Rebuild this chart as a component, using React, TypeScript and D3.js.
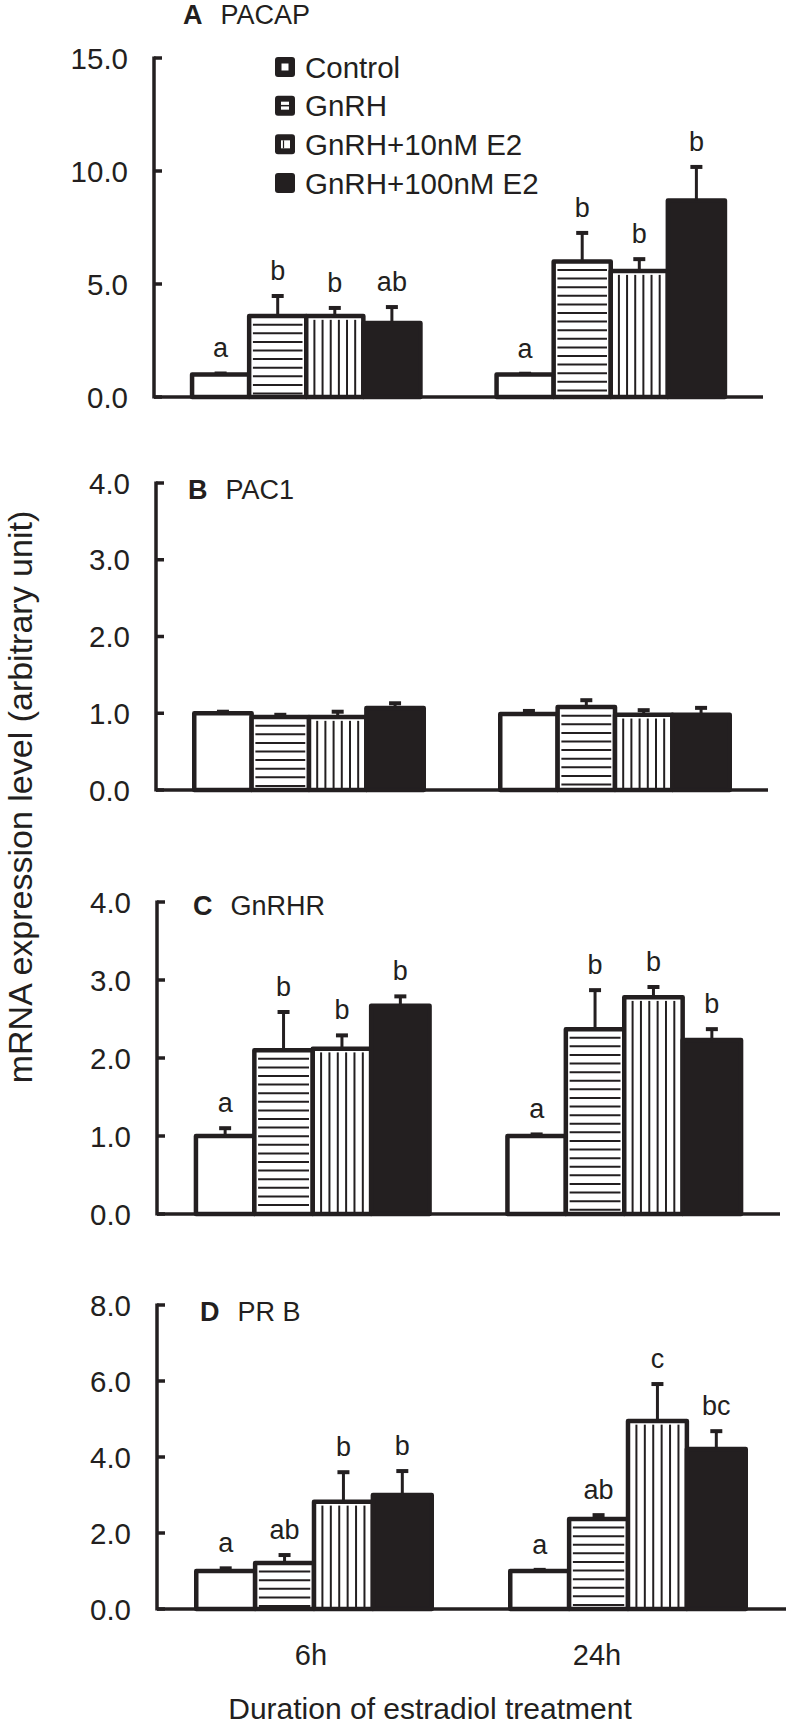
import React from "react";
import * as d3 from "d3";

// ---------- DATA ----------
const groups = ["6h", "24h"];
const series = ["Control", "GnRH", "GnRH+10nM E2", "GnRH+100nM E2"];

// Panel A: PACAP
const pacapMean6h = [1.0, 3.58, 3.58, 3.27];
const pacapErr6h = [0.04, 0.89, 0.36, 0.71];
const pacapLetters6h = ["a", "b", "b", "ab"];
const pacapMean24h = [1.0, 6.0, 5.57, 8.7];
const pacapErr24h = [0.03, 1.26, 0.53, 1.48];
const pacapLetters24h = ["a", "b", "b", "b"];
const pacapTicks = [0, 5, 10, 15];

// Panel B: PAC1
const pac1Mean6h = [1.0, 0.95, 0.95, 1.07];
const pac1Err6h = [0.02, 0.03, 0.07, 0.06];
const pac1Letters6h = ["", "", "", ""];
const pac1Mean24h = [0.99, 1.08, 0.98, 0.98];
const pac1Err24h = [0.04, 0.09, 0.06, 0.09];
const pac1Letters24h = ["", "", "", ""];
const pac1Ticks = [0, 1, 2, 3, 4];

// Panel C: GnRHR
const gnrhrMean6h = [1.0, 2.1, 2.12, 2.67];
const gnrhrErr6h = [0.1, 0.49, 0.17, 0.12];
const gnrhrLetters6h = ["a", "b", "b", "b"];
const gnrhrMean24h = [1.0, 2.37, 2.78, 2.23];
const gnrhrErr24h = [0.02, 0.5, 0.13, 0.14];
const gnrhrLetters24h = ["a", "b", "b", "b"];
const gnrhrTicks = [0, 1, 2, 3, 4];

// Panel D: PR B
const prbMean6h = [1.0, 1.21, 2.82, 3.0];
const prbErr6h = [0.07, 0.21, 0.78, 0.63];
const prbLetters6h = ["a", "ab", "b", "b"];
const prbMean24h = [1.0, 2.37, 4.95, 4.21];
const prbErr24h = [0.03, 0.1, 0.97, 0.47];
const prbLetters24h = ["a", "ab", "c", "bc"];
const prbTicks = [0, 2, 4, 6, 8];

const panelLetters = ["A", "B", "C", "D"];
const panelNames = ["PACAP", "PAC1", "GnRHR", "PR B"];
const xAxisTitle = "Duration of estradiol treatment";
const yAxisTitle = "mRNA expression level (arbitrary unit)";

// ---------- LAYOUT ----------
const W = 786;
const H = 1728;
const FONT = "'Liberation Sans', Arial, Helvetica, sans-serif";
const INK = "#231f20";

type Layout = {
  x0: number; x1: number; lineEnd: number; yBase: number; yTop: number;
  titleX: number; titleY: number;
};
const layouts: Layout[] = [
  { x0: 154, x1: 763, lineEnd: 763, yBase: 397, yTop: 58, titleX: 183, titleY: 24 },
  { x0: 156, x1: 768, lineEnd: 768, yBase: 790, yTop: 483, titleX: 188, titleY: 499 },
  { x0: 157, x1: 780, lineEnd: 780, yBase: 1214, yTop: 902, titleX: 193, titleY: 915 },
  { x0: 157, x1: 785, lineEnd: 786, yBase: 1609, yTop: 1305, titleX: 200, titleY: 1321 },
];

const panels = [
  { means: [pacapMean6h, pacapMean24h], errs: [pacapErr6h, pacapErr24h], letters: [pacapLetters6h, pacapLetters24h], ticks: pacapTicks },
  { means: [pac1Mean6h, pac1Mean24h], errs: [pac1Err6h, pac1Err24h], letters: [pac1Letters6h, pac1Letters24h], ticks: pac1Ticks },
  { means: [gnrhrMean6h, gnrhrMean24h], errs: [gnrhrErr6h, gnrhrErr24h], letters: [gnrhrLetters6h, gnrhrLetters24h], ticks: gnrhrTicks },
  { means: [prbMean6h, prbMean24h], errs: [prbErr6h, prbErr24h], letters: [prbLetters6h, prbLetters24h], ticks: prbTicks },
];

const BAR_STROKE = 4.5;
const STRIPE = 8.6;

function Bar({ x, y, w, h, kind }: { x: number; y: number; w: number; h: number; kind: number }) {
  const fill = kind === 3 ? INK : "#fff";
  const lines: React.ReactNode[] = [];
  const inset = BAR_STROKE / 2 + 1.5;
  if (kind === 1) {
    for (let yy = y + STRIPE; yy < y + h - 2; yy += STRIPE) {
      lines.push(<line key={yy} x1={x + inset} x2={x + w - inset} y1={yy} y2={yy} stroke={INK} strokeWidth={2} />);
    }
  } else if (kind === 2) {
    const n = Math.max(1, Math.round(w / STRIPE) - 1);
    for (let k = 1; k <= n; k++) {
      const xx = x + (w * k) / (n + 1);
      lines.push(<line key={k} x1={xx} x2={xx} y1={y + inset} y2={y + h} stroke={INK} strokeWidth={2} />);
    }
  }
  return (
    <g>
      <rect x={x} y={y} width={w} height={h} fill={fill} stroke={INK} strokeWidth={BAR_STROKE} strokeLinejoin="round" />
      {lines}
    </g>
  );
}

function Panel({ idx }: { idx: number }) {
  const L = layouts[idx];
  const P = panels[idx];
  const yMax = P.ticks[P.ticks.length - 1];
  const y = d3.scaleLinear().domain([0, yMax]).range([L.yBase, L.yTop]);
  const x = d3.scaleBand<string>().domain(groups).range([L.x0, L.x1]).paddingInner(0.25).paddingOuter(0.125);
  const xs = d3.scaleBand<string>().domain(series).range([0, x.bandwidth()]).padding(0);
  const fmt = d3.format(".1f");

  return (
    <g>
      {groups.map((g, gi) =>
        series.map((s, si) => {
          const v = P.means[gi][si];
          const bx = (x(g) as number) + (xs(s) as number);
          const bw = xs.bandwidth();
          return <Bar key={g + s} x={bx} y={y(v)} w={bw} h={y(0) - y(v)} kind={si} />;
        })
      )}
      {groups.map((g, gi) =>
        series.map((s, si) => {
          const v = P.means[gi][si];
          const e = P.errs[gi][si];
          const cx = (x(g) as number) + (xs(s) as number) + xs.bandwidth() / 2;
          const yt = y(v + e);
          return (
            <g key={"e" + g + s}>
              <line x1={cx} x2={cx} y1={y(v)} y2={yt} stroke={INK} strokeWidth={3} />
              <line x1={cx - 6} x2={cx + 6} y1={yt} y2={yt} stroke={INK} strokeWidth={4} />
              {P.letters[gi][si] && (
                <text x={cx} y={yt - 16} textAnchor="middle" fontSize={27} fill={INK}>
                  {P.letters[gi][si]}
                </text>
              )}
            </g>
          );
        })
      )}
      <line x1={L.x0} x2={L.x0} y1={y(yMax) - 1.5} y2={L.yBase + 1.5} stroke={INK} strokeWidth={3.5} />
      {P.ticks.map((t) => (
        <g key={t}>
          <line x1={L.x0} x2={L.x0 + 8} y1={y(t)} y2={y(t)} stroke={INK} strokeWidth={3.5} />
          <text x={L.x0 - 26} y={y(t)} dy="0.36em" textAnchor="end" fontSize={29.5} fill={INK}>
            {fmt(t)}
          </text>
        </g>
      ))}
      <line x1={L.x0} x2={L.lineEnd} y1={L.yBase} y2={L.yBase} stroke={INK} strokeWidth={3.5} />
      <text x={L.titleX} y={L.titleY} fontSize={27} fill={INK}>
        <tspan fontWeight="bold">{panelLetters[idx]}</tspan>
        <tspan dx={18}>{panelNames[idx]}</tspan>
      </text>
    </g>
  );
}

function Legend() {
  const x0 = 275;
  const rows = d3.scalePoint<string>().domain(series).range([67, 183]);
  return (
    <g>
      {series.map((s, i) => {
        const cy = rows(s) as number;
        return (
          <g key={s}>
            <rect x={x0} y={cy - 10} width={20} height={20} rx={3} fill={INK} />
            {i === 0 && <rect x={x0 + 6.5} y={cy - 3.5} width={7} height={7} fill="#fff" />}
            {i === 1 && (
              <g>
                <rect x={x0 + 6} y={cy - 4} width={8} height={8} fill="#fff" />
                <line x1={x0 + 6} x2={x0 + 14} y1={cy} y2={cy} stroke={INK} strokeWidth={1.5} />
              </g>
            )}
            {i === 2 && (
              <g>
                <rect x={x0 + 6} y={cy - 4} width={9} height={8} fill="#fff" />
                <line x1={x0 + 8.5} x2={x0 + 8.5} y1={cy - 4} y2={cy + 4} stroke={INK} strokeWidth={1.2} />
              </g>
            )}
            <text x={x0 + 30} y={cy} dy="0.36em" fontSize={29.5} fill={INK}>
              {s}
            </text>
          </g>
        );
      })}
    </g>
  );
}

export default function App() {
  const xLabel = d3.scalePoint<string>().domain(groups).range([311, 597]);
  return (
    <svg
      width={W}
      height={H}
      viewBox={`0 0 ${W} ${H}`}
      style={{ position: "absolute", left: 0, top: 0, background: "#fff" }}
      fontFamily={FONT}
    >
      <rect x={0} y={0} width={W} height={H} fill="#fff" />
      {[0, 1, 2, 3].map((i) => (
        <Panel key={i} idx={i} />
      ))}
      <Legend />
      {groups.map((g) => (
        <text key={g} x={xLabel(g)} y={1665} textAnchor="middle" fontSize={29} fill={INK}>
          {g}
        </text>
      ))}
      <text x={430} y={1719} textAnchor="middle" fontSize={30} fill={INK}>
        {xAxisTitle}
      </text>
      <text
        transform={`translate(32, 797) rotate(-90)`}
        textAnchor="middle"
        fontSize={34}
        fill={INK}
      >
        {yAxisTitle}
      </text>
    </svg>
  );
}
